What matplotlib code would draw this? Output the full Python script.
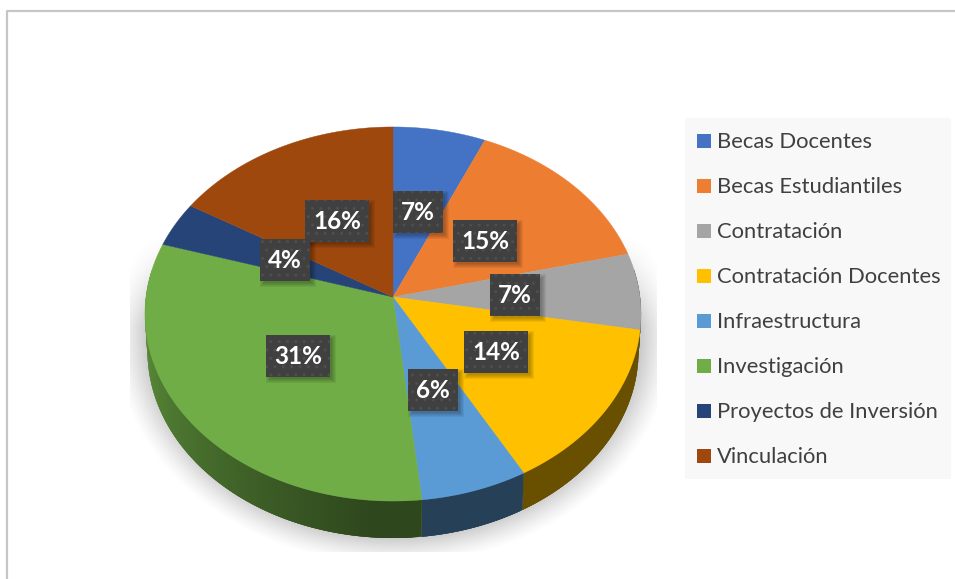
import numpy as np
import matplotlib
matplotlib.use('Agg')
import matplotlib.pyplot as plt
from matplotlib.collections import PolyCollection
from matplotlib.patches import Rectangle

categories = ['Becas Docentes', 'Becas Estudiantiles', 'Contratación', 'Contratación Docentes',
              'Infraestructura', 'Investigación', 'Proyectos de Inversión', 'Vinculación']
# the labels are these rounded
values = [6.6, 14.6, 6.6, 14.1, 6.4, 31.4, 3.9, 16.4]
colors = ['#4472c4', '#ed7d31', '#a5a5a5', '#ffc000', '#5b9bd5', '#70ad47', '#264478', '#9e480e']
label_centers = [(418, 212), (485, 241), (515, 295), (496, 352), (433, 390), (298, 356), (285, 260), (337, 221)]

# top face is a tilted disc: centre of the pie sits above the centre of the ellipse
cx, cy = 393, 297
a, b, k = 247, 185.5, 0.0909
depth = 37


def disc(theta):
    u, v = np.sin(theta), np.cos(theta)
    w = 1 + k * v
    return cx + a * u / w, cy - b * v / w


def wall_shade(theta):
    # 0 at the far left of the wall, 1 around the front
    return np.clip((3 * np.pi / 2 - theta) / (np.pi * 0.48), 0, 1)


fig = plt.figure(figsize=(9.55, 5.79), dpi=100)
ax = fig.add_axes([0, 0, 1, 1])
ax.set_xlim(0, 955)
ax.set_ylim(579, 0)
ax.axis('off')

# frame
ax.plot([6.5, 6.5, 955], [579, 10.5, 10.5], color='#c6c6c6', lw=1.6, solid_capstyle='butt')

# soft shadow under the pie, cut off by its box like in the original
xx, yy = np.meshgrid(np.arange(130, 656), np.arange(235, 552))
d = np.sqrt(((xx - 393) / 250.0) ** 2 + ((yy - 335) / 205.0) ** 2)
alpha = np.clip((1.12 - d) / 0.14, 0, 1) ** 1.3 * 0.33
alpha *= np.clip((yy - 235) / 90.0, 0, 1)
img = np.zeros(xx.shape + (4,))
img[..., :3] = 0.35
img[..., 3] = alpha
ax.imshow(img, extent=(130, 656, 552, 235), zorder=1, interpolation='bilinear', aspect='auto')
ax.set_xlim(0, 955)
ax.set_ylim(579, 0)

edges = np.concatenate([[0], np.cumsum(values)]) / np.sum(values) * 2 * np.pi

# side wall, each strip reaches over the next so no seams show
quads, quad_colors = [], []
for i, col in enumerate(colors):
    t = np.linspace(edges[i], edges[i + 1], 120)
    t = t[(t > np.pi * 0.45) & (t < np.pi * 1.55)]
    base = np.array(matplotlib.colors.to_rgb(col))
    for j in range(len(t) - 1):
        t0, t1 = t[j], t[min(j + 3, len(t) - 1)]
        x0, y0 = disc(t0)
        x1, y1 = disc(t1)
        xb0, xb1 = cx + (x0 - cx) * 0.99, cx + (x1 - cx) * 0.99
        quads.append([(x0, y0), (x1, y1), (xb1, y1 + depth), (xb0, y0 + depth)])
        if t0 >= np.pi:
            s = 0.41 + (0.85 - 0.41) * (1 - wall_shade(t0))
        else:
            s = 0.41
        quad_colors.append(base * s)
ax.add_collection(PolyCollection(quads, facecolors=quad_colors, edgecolors='none', zorder=2))

# top face
for i, col in enumerate(colors):
    t = np.linspace(edges[i], edges[i + 1], 200)
    x, y = disc(t)
    ax.fill(np.r_[cx, x], np.r_[cy, y], color=col, lw=0.3, zorder=3)

# data labels
for val, (lx, ly) in zip(values, label_centers):
    txt = '%d%%' % round(val)
    w = 50 if len(txt) == 2 else 64
    # blurry shadow, stacked rectangles getting smaller
    for grow in [3, 2, 1, 0, -1]:
        ax.add_patch(Rectangle((lx - w / 2 + 3 - grow, ly - 21 + 3 - grow), w + 2 * grow, 42 + 2 * grow,
                               facecolor='black', alpha=0.06, lw=0, zorder=3.5))
    ax.add_patch(Rectangle((lx - w / 2, ly - 21), w, 42, facecolor='#404040', edgecolor='#4e4e4e',
                           hatch='..', lw=0, zorder=4))
    ax.text(lx, ly + 8, txt, color='white', fontsize=17.5, fontweight='bold', family='Lato',
            ha='center', va='baseline', zorder=5)

# legend
ax.add_patch(Rectangle((685, 118), 266, 361, facecolor='#f8f8f8', edgecolor='none', zorder=2))
for i, (name, col) in enumerate(zip(categories, colors)):
    ly = 141 + 45 * i
    ax.add_patch(Rectangle((697, ly - 7), 14, 14, facecolor=col, edgecolor='none', zorder=3))
    ax.text(717, ly + 7, name, color='#404040', fontsize=15.8, family='Lato', ha='left', va='baseline', zorder=3)

fig.savefig('out.png', dpi=100)
